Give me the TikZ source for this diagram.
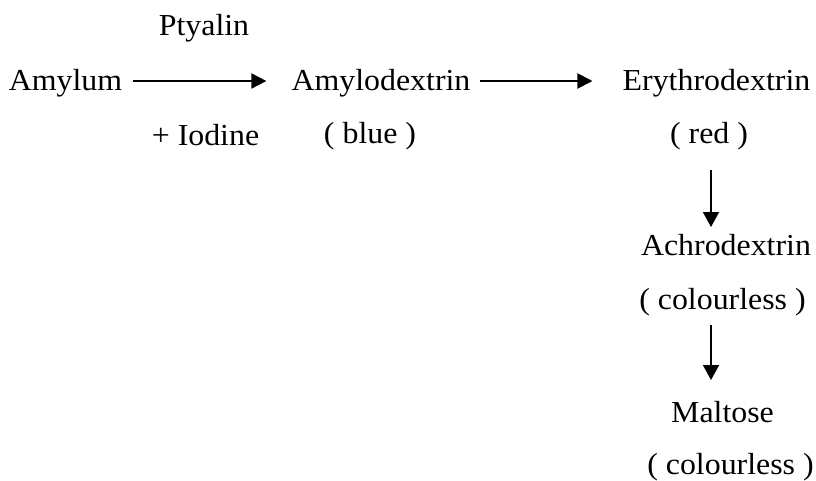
\documentclass[tikz,border=0pt]{standalone}
\usepackage{fontspec}
\setmainfont{Liberation Serif}[FakeStretch=1.045]
\usetikzlibrary{arrows.meta,calc}
\begin{document}
\begin{tikzpicture}[x=1pt,y=-1pt,
  lbl/.style={inner sep=0pt,anchor=base,font=\fontsize{30.5}{34}\selectfont},
  harr/.style={line width=1.9pt,-{Triangle[length=15pt,width=15pt]}},
  varr/.style={line width=1.6pt,-{Triangle[length=15pt,width=16pt]}}]
\useasboundingbox (0,0) rectangle (816,480);
\node[lbl] (ptyalin) at (204,35) {Ptyalin};
\node[lbl] (amylum) at (65.5,90) {Amylum};
\node[lbl] (amylo) at (381,90) {Amylodextrin};
\node[lbl] (ery) at (716.5,90) {Erythrodextrin};
\node[lbl] (iodine) at (205.5,145) {+ Iodine};
\node[lbl] (blue) at (370,143) {( blue )};
\node[lbl] (red) at (709,143) {( red )};
\node[lbl] (achro) at (726,255) {Achrodextrin};
\node[lbl] (col1) at (722.5,309) {( colourless )};
\node[lbl] (malt) at (722.5,422) {Maltose};
\node[lbl] (col2) at (730.5,474) {( colourless )};
\draw[harr] ($(amylum.base east)+(11,-9)$) -- ($(amylo.base west)+(-25,-9)$);
\draw[harr] ($(amylo.base east)+(9,-9)$) -- ($(ery.base west)+(-30,-9)$);
\draw[varr] ($(red.base)+(2,27)$) -- ($(achro.base)+(-15,-28)$);
\draw[varr] ($(col1.base)+(-11.5,16)$) -- ($(malt.base)+(-11.5,-42)$);
\end{tikzpicture}
\end{document}
